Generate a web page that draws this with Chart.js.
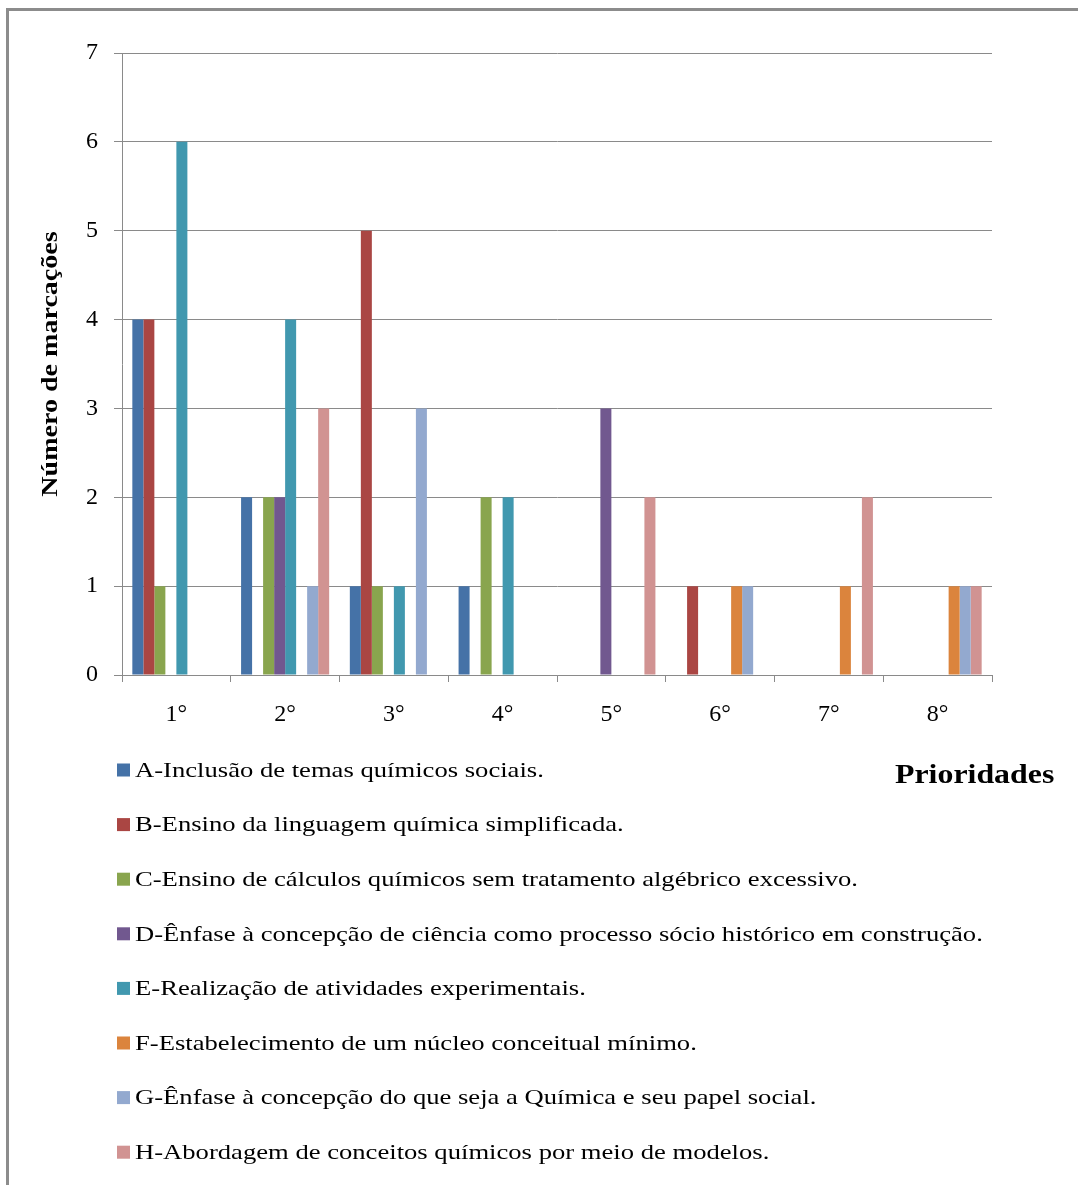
<!DOCTYPE html>
<html lang="pt">
<head>
<meta charset="utf-8">
<title>Prioridades</title>
<script src="https://cdn.jsdelivr.net/npm/chart.js@4/dist/chart.umd.min.js"></script>
<style>
  html, body { margin: 0; padding: 0; background: #fff; }
  #wrap { position: relative; width: 1078px; height: 1185px; }
  canvas { display: block; }
</style>
</head>
<body>
<div id="wrap"><canvas id="c" width="1078" height="1185"></canvas></div>
<script>
// Prioridades (1º a 8º) e número de marcações por proposta
const categories = ['1°', '2°', '3°', '4°', '5°', '6°', '7°', '8°'];

const seriesNames = [
  'A-Inclusão de temas químicos sociais.',
  'B-Ensino da linguagem química simplificada.',
  'C-Ensino de cálculos químicos sem tratamento algébrico excessivo.',
  'D-Ênfase à concepção de ciência como processo sócio histórico em construção.',
  'E-Realização de atividades experimentais.',
  'F-Estabelecimento de um núcleo conceitual mínimo.',
  'G-Ênfase à concepção do que seja a Química e seu papel social.',
  'H-Abordagem de conceitos químicos por meio de modelos.'
];

const valuesA = [4, 2, 1, 1, 0, 0, 0, 0];
const valuesB = [4, 0, 5, 0, 0, 1, 0, 0];
const valuesC = [1, 2, 1, 2, 0, 0, 0, 0];
const valuesD = [0, 2, 0, 0, 3, 0, 0, 0];
const valuesE = [6, 4, 1, 2, 0, 0, 0, 0];
const valuesF = [0, 0, 0, 0, 0, 1, 1, 1];
const valuesG = [0, 1, 3, 0, 0, 1, 0, 1];
const valuesH = [0, 3, 0, 0, 2, 0, 2, 1];

const yTicks = [0, 1, 2, 3, 4, 5, 6, 7];

const yTitle = 'Número de marcações';
const xTitle = 'Prioridades';

const colors = ['#4572A7', '#AA4643', '#89A54E', '#71588F', '#4198AF', '#DB843D', '#93A9CF', '#D19392'];
const allValues = [valuesA, valuesB, valuesC, valuesD, valuesE, valuesF, valuesG, valuesH];

const FONT = '"Liberation Serif", "Times New Roman", serif';
const GRID = '#8a8a8a';

// Frame, axis captions and a single-column legend under the plot
const annotations = {
  id: 'annotations',
  afterDraw(chart) {
    const ctx = chart.ctx;
    const area = chart.chartArea;
    ctx.save();

    // frame
    ctx.strokeStyle = '#8c8c8c';
    ctx.lineWidth = 3;
    ctx.beginPath();
    ctx.moveTo(7.5, 1185);
    ctx.lineTo(7.5, 9.5);
    ctx.lineTo(1078, 9.5);
    ctx.stroke();

    // y axis caption, rotated and widened along its run
    ctx.save();
    ctx.translate(51, (area.top + area.bottom) / 2);
    ctx.rotate(-Math.PI / 2);
    ctx.scale(1.22, 1);
    ctx.font = 'bold 23px ' + FONT;
    ctx.fillStyle = '#000';
    ctx.textAlign = 'center';
    ctx.textBaseline = 'middle';
    ctx.fillText(yTitle, 0, 0);
    ctx.restore();

    // legend entries
    const x0 = 117, y0 = 770, step = 54.6, box = 13;
    ctx.textBaseline = 'middle';
    ctx.textAlign = 'left';
    chart.data.datasets.forEach((ds, i) => {
      const y = y0 + i * step;
      ctx.fillStyle = ds.backgroundColor;
      ctx.fillRect(x0, y - box / 2, box, box);
      ctx.save();
      ctx.translate(x0 + 18, y + 1);
      ctx.scale(1.21, 1);
      ctx.font = '22px ' + FONT;
      ctx.fillStyle = '#000';
      ctx.fillText(ds.label, 0, 0);
      ctx.restore();
    });

    // x axis caption
    ctx.save();
    ctx.translate(895, 776);
    ctx.scale(1.18, 1);
    ctx.font = 'bold 27px ' + FONT;
    ctx.fillStyle = '#000';
    ctx.textAlign = 'left';
    ctx.textBaseline = 'middle';
    ctx.fillText(xTitle, 0, 0);
    ctx.restore();

    ctx.restore();
  }
};

new Chart(document.getElementById('c'), {
  type: 'bar',
  data: {
    labels: categories,
    datasets: seriesNames.map((name, i) => ({
      label: name,
      data: allValues[i],
      backgroundColor: colors[i],
      borderWidth: 0,
      barPercentage: 1,
      categoryPercentage: 0.81
    }))
  },
  options: {
    responsive: false,
    animation: false,
    layout: { padding: { left: 0, top: 53, right: 86, bottom: 450 } },
    plugins: {
      legend: { display: false },
      tooltip: { enabled: false }
    },
    scales: {
      x: {
        afterFit(scale) { scale.height = 60; },
        grid: {
          offset: true,
          drawOnChartArea: false,
          drawTicks: true,
          tickLength: 7,
          color: GRID
        },
        border: { display: true, color: GRID },
        ticks: {
          color: '#000',
          font: { family: FONT, size: 24 },
          padding: 18
        }
      },
      y: {
        min: 0,
        max: 7,
        afterFit(scale) { scale.width = 122; },
        afterBuildTicks(scale) { scale.ticks = yTicks.map(v => ({ value: v })); },
        grid: {
          color: GRID,
          drawTicks: true,
          tickLength: 8
        },
        border: { display: true, color: GRID },
        ticks: {
          color: '#000',
          font: { family: FONT, size: 24 },
          padding: 16
        }
      }
    }
  },
  plugins: [annotations]
});
</script>
</body>
</html>
